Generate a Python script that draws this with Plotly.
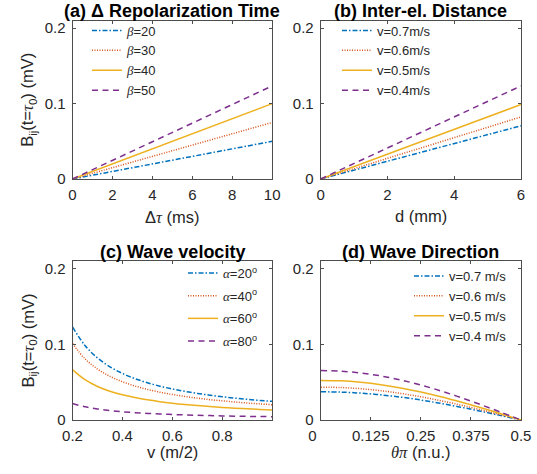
import plotly.graph_objects as go

W, H = 537, 474

# ---------------- data ----------------
# (a) Delta repolarization time
dtau_ms = [0, 2, 4, 6, 8, 10]
a_beta20 = [0, 0.010, 0.020, 0.030, 0.040, 0.050]
a_beta30 = [0, 0.015, 0.030, 0.045, 0.060, 0.075]
a_beta40 = [0, 0.020, 0.040, 0.060, 0.080, 0.100]
a_beta50 = [0, 0.0247, 0.0494, 0.0741, 0.0988, 0.1235]
a_names = ["20", "30", "40", "50"]

# (b) Inter-electrode distance
d_mm = [0, 1, 2, 3, 4, 5, 6]
b_v07 = [0, 0.0118, 0.0235, 0.0353, 0.0471, 0.0588, 0.0706]
b_v06 = [0, 0.0137, 0.0274, 0.0412, 0.0549, 0.0686, 0.0823]
b_v05 = [0, 0.0165, 0.0329, 0.0494, 0.0659, 0.0823, 0.0988]
b_v04 = [0, 0.0206, 0.0412, 0.0618, 0.0823, 0.1029, 0.1235]
b_names = ["v=0.7m/s", "v=0.6m/s", "v=0.5m/s", "v=0.4m/s"]

# (c) Wave velocity
v_ms = [0.2, 0.25, 0.3, 0.35, 0.4, 0.45, 0.5, 0.55, 0.6, 0.65, 0.7, 0.75, 0.8, 0.85, 0.9, 0.95, 1.0]
c_a20 = [0.123, 0.0984, 0.082, 0.0703, 0.0615, 0.0547, 0.0492, 0.0447, 0.041, 0.0378, 0.0351, 0.0328, 0.0308, 0.0289, 0.0273, 0.0259, 0.0246]
c_a40 = [0.101, 0.0808, 0.0673, 0.0577, 0.0505, 0.0449, 0.0404, 0.0367, 0.0337, 0.0311, 0.0289, 0.0269, 0.0253, 0.0238, 0.0224, 0.0213, 0.0202]
c_a60 = [0.0665, 0.0532, 0.0443, 0.038, 0.0333, 0.0296, 0.0266, 0.0242, 0.0222, 0.0205, 0.019, 0.0177, 0.0166, 0.0156, 0.0148, 0.014, 0.0133]
c_a80 = [0.0218, 0.0174, 0.0145, 0.0124, 0.0109, 0.0097, 0.0087, 0.0079, 0.0073, 0.0067, 0.0062, 0.0058, 0.0054, 0.0051, 0.0048, 0.0046, 0.0044]
c_names = ["20", "40", "60", "80"]

# (d) Wave direction
theta = [0, 0.05, 0.1, 0.15, 0.2, 0.25, 0.3, 0.35, 0.4, 0.45, 0.5]
d_v07 = [0.0373, 0.0368, 0.0355, 0.0332, 0.0302, 0.0264, 0.0219, 0.0169, 0.0115, 0.0058, 0]
d_v06 = [0.0434, 0.0429, 0.0413, 0.0387, 0.0351, 0.0307, 0.0255, 0.0197, 0.0134, 0.0068, 0]
d_v05 = [0.0523, 0.0517, 0.0497, 0.0466, 0.0423, 0.037, 0.0307, 0.0237, 0.0162, 0.0082, 0]
d_v04 = [0.0653, 0.0645, 0.0621, 0.0582, 0.0528, 0.0462, 0.0384, 0.0296, 0.0202, 0.0102, 0]
d_names = ["v=0.7 m/s", "v=0.6 m/s", "v=0.5 m/s", "v=0.4 m/s"]

# tick values
a_ticks = [0, 2, 4, 6, 8, 10]
b_ticks = [0, 2, 4, 6]
c_ticks = [0.2, 0.4, 0.6, 0.8]
d_ticks = [0, 0.125, 0.25, 0.375, 0.5]
d_ticktext = ["0\u00a0\u00a0\u00a0\u00a0", "0.125", "0.25", "0.375", "0.5"]
y_ticks = [0, 0.1, 0.2]
y_ticktext = ["0", "0.1", "0.2"]

# ---------------- styles ----------------
colors = ["#0072BD", "#D95319", "#EDB120", "#7E2F8E"]
dashes = ["5px,2px,1.5px,2px", "1px,1.5px", "solid", "6px,4.5px"]
LW = 1.5
FONT = "Liberation Sans, Arial, sans-serif"

def gr(s):
    return "<span style=\"font-family:'Liberation Serif'\"><i>%s</i></span>" % s

def px_x(p):
    return p / W

def px_y(p):
    return 1 - p / H

fig = go.Figure()

def add_set(xs, ys_list, names, xa, ya, leg, group=False, shape="linear"):
    for i, (ys, nm) in enumerate(zip(ys_list, names)):
        fig.add_trace(go.Scatter(
            x=xs, y=ys, mode="lines", name=nm,
            line=dict(color=colors[i], width=LW, dash=dashes[i], shape=shape),
            xaxis=xa, yaxis=ya, legend=leg,
            legendgroup=(leg + str(i)) if group else None,
        ))

add_set(dtau_ms, [a_beta20, a_beta30, a_beta40, a_beta50],
        [gr("β") + "=" + n for n in a_names], "x", "y", "legend")
add_set(d_mm, [b_v07, b_v06, b_v05, b_v04], b_names, "x2", "y2", "legend2")
add_set(v_ms, [c_a20, c_a40, c_a60, c_a80],
        [gr("α") + "=" + n + "<sup>o</sup>" for n in c_names], "x3", "y3", "legend3",
        group=True, shape="spline")
add_set(theta, [d_v07, d_v06, d_v05, d_v04], d_names, "x4", "y4", "legend4", shape="spline")

# domains (pixels)
XL = (72.5, 272.2)
XR = (320.7, 521.0)
YT = (20.7, 179.0)
YB = (261.0, 420.0)

axis_common = dict(
    showline=True, linecolor="#4d4d4d", linewidth=1, mirror="ticks",
    ticks="inside", ticklen=3, tickcolor="#4d4d4d", tickwidth=1,
    showgrid=False, zeroline=False, automargin=False,
    tickfont=dict(family=FONT, size=15, color="#262626"),
)

def xdom(d):
    return [px_x(d[0]), px_x(d[1])]

def ydom(d):
    return [px_y(d[1]), px_y(d[0])]

XS = 2
YS = 3
fig.update_layout(
    width=W, height=H, autosize=False,
    margin=dict(l=0, r=0, t=0, b=0, pad=0, autoexpand=False),
    paper_bgcolor="white", plot_bgcolor="white",
    font=dict(family=FONT, color="#262626"),
    xaxis=dict(domain=xdom(XL), anchor="y", range=[0, 10], tickvals=a_ticks, ticklabelstandoff=XS, **axis_common),
    yaxis=dict(domain=ydom(YT), anchor="x", range=[0, 0.21], tickvals=y_ticks, ticktext=y_ticktext, ticklabelstandoff=YS, **axis_common),
    xaxis2=dict(domain=xdom(XR), anchor="y2", range=[0, 6], tickvals=b_ticks, ticklabelstandoff=XS, **axis_common),
    yaxis2=dict(domain=ydom(YT), anchor="x2", range=[0, 0.21], tickvals=y_ticks, ticktext=y_ticktext, ticklabelstandoff=YS, **axis_common),
    xaxis3=dict(domain=xdom(XL), anchor="y3", range=[0.2, 1.0], tickvals=c_ticks, ticklabelstandoff=XS, **axis_common),
    yaxis3=dict(domain=ydom(YB), anchor="x3", range=[0, 0.21], tickvals=y_ticks, ticktext=y_ticktext, ticklabelstandoff=YS, **axis_common),
    xaxis4=dict(domain=xdom(XR), anchor="y4", range=[0, 0.5], tickvals=d_ticks, ticktext=d_ticktext, ticklabelstandoff=XS, **axis_common),
    yaxis4=dict(domain=ydom(YB), anchor="x4", range=[0, 0.21], tickvals=y_ticks, ticktext=y_ticktext, ticklabelstandoff=YS, **axis_common),
)

leg_common = dict(bgcolor="rgba(0,0,0,0)", borderwidth=0, xanchor="left", yanchor="top",
                  font=dict(family=FONT, size=13, color="#262626"), itemwidth=30)
fig.update_layout(
    legend=dict(x=px_x(87), y=px_y(15.5), **leg_common),
    legend2=dict(x=px_x(337), y=px_y(15.5), **leg_common),
    legend3=dict(x=px_x(183), y=px_y(258), tracegroupgap=2.8, **leg_common),
    legend4=dict(x=px_x(409), y=px_y(261), **leg_common),
)

def ann(text, x, y, size, angle=0, bold=False, color="#262626"):
    if bold:
        text = "<b>" + text + "</b>"
    fig.add_annotation(text=text, x=px_x(x), y=px_y(y), xref="paper", yref="paper",
                       xanchor="center", yanchor="middle", showarrow=False, textangle=angle,
                       font=dict(family=FONT, size=size, color=color))

# subplot titles
TS = 18
ann("(a) Δ Repolarization Time", (XL[0] + XL[1]) / 2, 11.5, TS, bold=True, color="black")
ann("(b) Inter-el. Distance", (XR[0] + XR[1]) / 2, 11.5, TS, bold=True, color="black")
ann("(c) Wave velocity", (XL[0] + XL[1]) / 2, 251.5, TS, bold=True, color="black")
ann("(d) Wave Direction", (XR[0] + XR[1]) / 2, 251.5, TS, bold=True, color="black")

# axis titles
ytitle = "B<sub>ij</sub>(t=" + gr("τ") + "<sub>0</sub>) (mV)"
ann(ytitle, 28, (YT[0] + YT[1]) / 2, 16.5, angle=-90)
ann(ytitle, 28, (YB[0] + YB[1]) / 2, 16.5, angle=-90)
ann("Δ" + gr("τ") + " (ms)", (XL[0] + XL[1]) / 2, 218, 16.5)
ann("d (mm)", (XR[0] + XR[1]) / 2, 216, 16.5)
ann("v (m/2)", (XL[0] + XL[1]) / 2, 452, 16.5)
ann(gr("θπ") + " (n.u.)", (XR[0] + XR[1]) / 2, 452, 16.5)

fig.write_html("out.html", config={"displayModeBar": False},
               post_script="document.body.style.margin='0px';document.body.style.padding='0px';")
